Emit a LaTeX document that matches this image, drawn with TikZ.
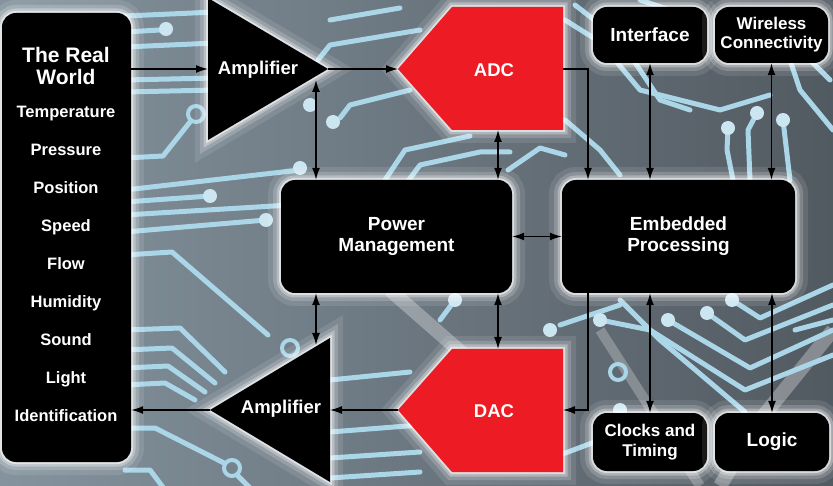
\documentclass[tikz,border=0pt]{standalone}
\usepackage{fontspec}
\setmainfont{Liberation Sans}
\usetikzlibrary{arrows.meta}

\definecolor{tiRed}{RGB}{237,28,36}
\definecolor{traceBlue}{RGB}{170,214,232}
\definecolor{bgLeft}{RGB}{132,147,158}
\definecolor{bgRight}{RGB}{82,90,97}

\begin{document}
\begin{tikzpicture}[x=1pt,y=-1pt,
    glow/.style={preaction={draw=white,line width=26pt,opacity=0.1},preaction={draw=white,line width=16pt,opacity=0.18},preaction={draw=white,line width=9pt,opacity=0.3},preaction={draw=white,line width=4pt,opacity=0.55}},
    block/.style={glow,fill=black,rounded corners=14pt,text=white,align=center,inner sep=0pt,font=\bfseries\fontsize{19}{21}\selectfont},
    tag/.style={text=white,align=center,inner sep=0pt,font=\bfseries\fontsize{18.5}{21}\selectfont},
    item/.style={text=white,inner sep=0pt,text height=12pt,text depth=3.5pt,font=\bfseries\fontsize{16.5}{19}\selectfont},
    link/.style={draw=black,line width=1.4pt,-{Latex[length=12pt,width=8pt]}},
    dlink/.style={link,{Latex[length=12pt,width=8pt]}-{Latex[length=12pt,width=8pt]}},
    trace/.style={draw=traceBlue,line width=5pt,line join=round,line cap=round},
    pad/.style={fill=traceBlue!60!white},
    ring/.style={draw=traceBlue,line width=4pt}]

    % background board
    \useasboundingbox (0,0) rectangle (833,486);
    \shade[left color=bgLeft,right color=bgRight] (0,0) rectangle (833,486);
    \begin{scope}
        \clip (0,0) rectangle (833,486);
        \draw[white,line width=14pt,opacity=0.3] (390,290) -- (470,360);
        \draw[white,line width=14pt,opacity=0.3] (833,330) -- (760,420) -- (720,486);
        \draw[white,line width=10pt,opacity=0.25] (600,330) -- (700,486);
        % traces left
        \draw[trace] (125,16) -- (215,12);
        \draw[trace] (125,32) -- (160,30);
        \draw[trace] (125,47) -- (215,43);
        \draw[trace] (125,80) -- (215,78);
        \draw[trace] (125,92) -- (215,90);
        \draw[trace] (125,158) -- (163,156) -- (190,122);
        \draw[trace] (125,190) -- (300,170);
        \draw[trace] (125,202) -- (210,196);
        \draw[trace] (125,215) -- (290,205);
        \draw[trace] (125,232) -- (266,220);
        \draw[trace] (125,255) -- (172,252) -- (268,335);
        \draw[trace] (125,330) -- (180,328) -- (225,372);
        \draw[trace] (125,350) -- (172,348) -- (215,383);
        \draw[trace] (125,368) -- (168,366) -- (205,392);
        \draw[trace] (125,385) -- (165,383) -- (195,400);
        \draw[trace] (125,428) -- (155,428) -- (224,463);
        \draw[trace] (238,476) -- (252,490);
        \draw[trace] (125,470) -- (150,470) -- (165,490);
        % traces middle
        \draw[trace] (318,60) -- (330,45) -- (420,30);
        \draw[trace] (330,20) -- (400,8);
        \draw[trace] (340,118) -- (350,105) -- (410,90);
        \draw[trace] (385,180) -- (405,150) -- (470,136);
        \draw[trace] (405,185) -- (420,165) -- (480,152) -- (510,152);
        \draw[trace] (508,170) -- (540,148) -- (565,155);
        \draw[trace] (330,380) -- (410,372);
        \draw[trace] (330,432) -- (420,425);
        \draw[trace] (330,458) -- (420,452);
        \draw[trace] (330,478) -- (420,472);
        \draw[trace] (440,320) -- (455,300);
        \draw[trace] (560,325) -- (620,305);
        % traces right top
        \draw[trace] (565,20) -- (600,42) -- (640,90) -- (720,110) -- (770,95);
        \draw[trace] (575,5) -- (620,40) -- (660,100) -- (690,110);
        \draw[trace] (640,0) -- (700,20);
        \draw[trace] (565,120) -- (600,150) -- (620,175);
        \draw[trace] (728,128) -- (727,150) -- (733,180);
        \draw[trace] (757,113) -- (748,130) -- (750,180);
        \draw[trace] (783,120) -- (790,180);
        \draw[trace] (790,60) -- (800,90) -- (833,130);
        \draw[trace] (810,60) -- (830,80);
        % traces right bottom
        \draw[trace] (600,320) -- (650,330) -- (745,390) -- (833,355);
        \draw[trace] (668,320) -- (750,368) -- (833,330);
        \draw[trace] (707,313) -- (745,340) -- (833,305);
        \draw[trace] (732,300) -- (760,318) -- (833,285);
        \draw[trace] (620,300) -- (660,340) -- (745,412);
        \draw[trace] (795,330) -- (833,320);
        \draw[trace] (560,455) -- (600,440);
        % pads and rings
        \foreach \pos in {(166,29),(300,168),(210,196),(266,220),(333,122),(310,105),(728,128),(757,113),(783,120),(600,320),(668,320),(707,313),(732,300),(550,330),(455,300),(620,410)}{
            \fill[pad] \pos circle (7);
        }
        \foreach \pos in {(196,114),(232,468),(290,348),(618,372)}{
            \draw[ring] \pos circle (8);
        }
    \end{scope}

    % the real world
    \node[block,minimum width=129pt,minimum height=449pt] (rw) at (66.5,237.5) {};
    \node[tag,font=\bfseries\fontsize{21}{22}\selectfont] (rw-title) at (66,66) {The Real\\World};
    \foreach [count=\i] \txt in {Temperature,Pressure,Position,Speed,Flow,Humidity,Sound,Light,Identification}{
        \node[item] (rw\i) at (66,113+38*\i-38) {\txt};
    }

    % signal chain
    \fill[glow,black] (208,-2) -- (208,140) -- (328,69) coordinate (ampA-tip) -- cycle;
    \coordinate (ampA-in) at (208,69);
    \coordinate (ampA-tap) at (316,80);
    \node[tag] (ampA) at (258,70) {Amplifier};

    \fill[glow,tiRed] (398,69) coordinate (adc-tip) -- (452,7) -- (563,7) -- (563,130) -- (452,130) -- cycle;
    \coordinate (adc-out) at (563,69);
    \coordinate (adc-s) at (498,130);
    \node[tag] (adc) at (494,70) {ADC};

    \fill[glow,black] (330,338) -- (330,482) -- (210,410) coordinate (ampB-tip) -- cycle;
    \coordinate (ampB-in) at (330,410);
    \coordinate (ampB-tap) at (316,345);
    \node[tag] (ampB) at (281,409) {Amplifier};

    \fill[glow,tiRed] (398,410) coordinate (dac-tip) -- (452,349) -- (563,349) -- (563,472) -- (452,472) -- cycle;
    \coordinate (dac-out) at (563,410);
    \coordinate (dac-n) at (498,349);
    \node[tag] (dac) at (494,411) {DAC};

    % blocks
    \node[block,minimum width=231pt,minimum height=113pt] (pwr) at (396.5,236.5) {Power\\Management};
    \node[block,minimum width=233pt,minimum height=113pt] (emb) at (678.5,236.5) {Embedded\\Processing};
    \node[block,minimum width=114pt,minimum height=56pt] (iface) at (650,35) {Interface};
    \node[block,minimum width=113pt,minimum height=56pt,font=\bfseries\fontsize{17}{19}\selectfont] (wless) at (771.5,35) {Wireless\\Connectivity};
    \node[block,minimum width=114pt,minimum height=58pt,font=\bfseries\fontsize{17}{19.5}\selectfont] (clk) at (650,442) {Clocks and\\Timing};
    \node[block,minimum width=114pt,minimum height=58pt] (logic) at (772,442) {Logic};

    % connectors
    \draw[link] (rw.east |- ampA-in) -- (ampA-in);
    \draw[link] (ampA-tip) -- (adc-tip);
    \draw[dlink] (ampA-tap) -- (ampA-tap |- pwr.north);
    \draw[dlink] (adc-s) -- (adc-s |- pwr.north);
    \draw[link] (adc-out) -| ([xshift=-90.5pt]emb.north);
    \draw[dlink] (pwr.east) -- (emb.west);
    \draw[dlink] (iface.south) -- (iface.south |- emb.north);
    \draw[dlink] (wless.south) -- (wless.south |- emb.north);
    \draw[dlink] (clk.north |- emb.south) -- (clk.north);
    \draw[dlink] (logic.north |- emb.south) -- (logic.north);
    \draw[link] ([xshift=-90.5pt]emb.south) |- (dac-out);
    \draw[dlink] (ampB-tap |- pwr.south) -- (ampB-tap);
    \draw[dlink] (dac-n |- pwr.south) -- (dac-n);
    \draw[link] (dac-tip) -- (ampB-in);
    \draw[link] (ampB-tip) -- (rw.east |- ampB-tip);
\end{tikzpicture}
\end{document}
